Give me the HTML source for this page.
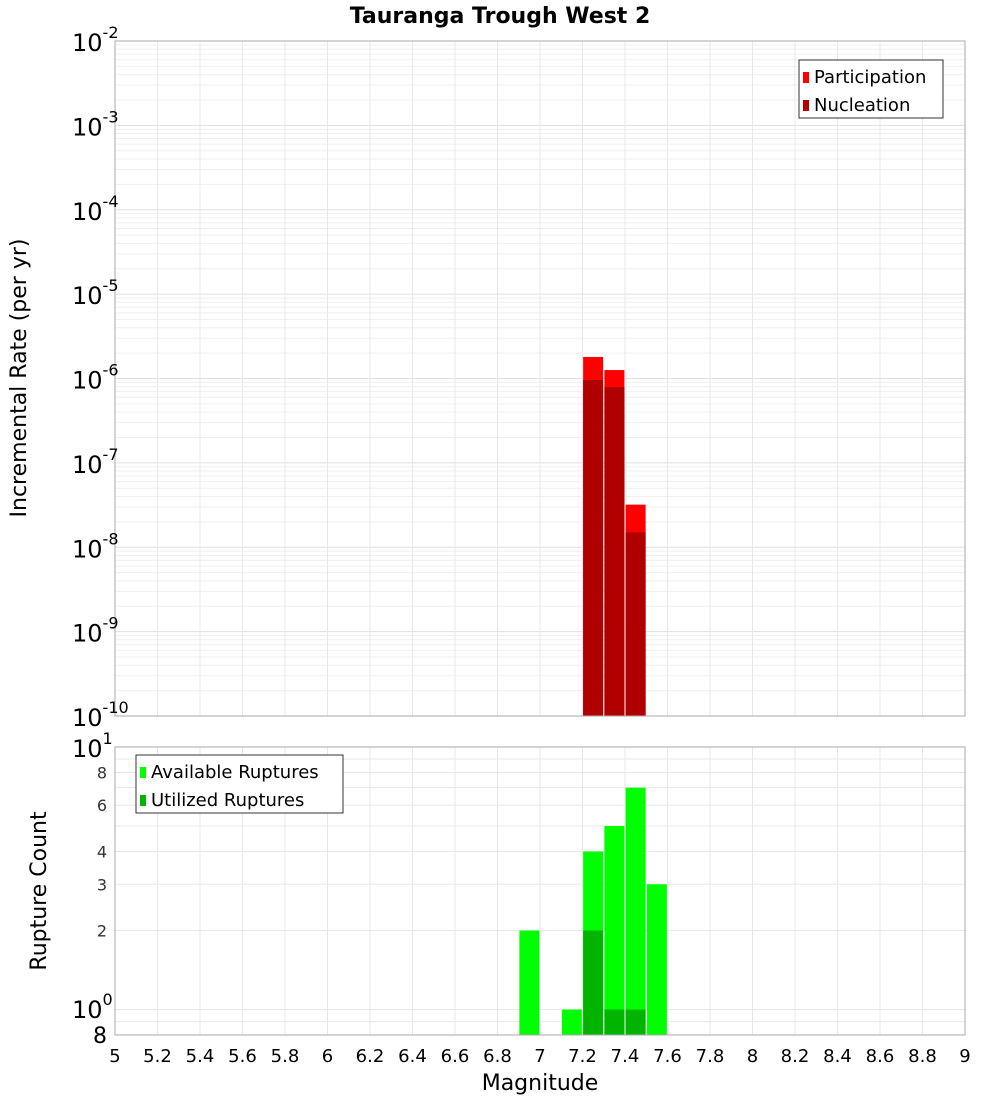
<!DOCTYPE html>
<html><head><meta charset="utf-8"><style>
body{margin:0;background:#fff;font-family:"DejaVu Sans","Liberation Sans",sans-serif}
</style></head><body>
<svg id="c" width="1000" height="1100" xmlns="http://www.w3.org/2000/svg" font-family="DejaVu Sans, Liberation Sans, sans-serif">
<text x="500" y="23" text-anchor="middle" font-size="22" font-weight="bold">Tauranga Trough West 2</text>
<g id="g"></g>
</svg>
<script>
const mags=[7.25,7.35,7.45];
const participation=[1.8e-6,1.26e-6,3.2e-8];
const nucleation=[9.6e-7,7.9e-7,1.5e-8];
const countMags=[6.95,7.15,7.25,7.35,7.45,7.55];
const available=[2,1,4,5,7,3];
const utilMags=[7.25,7.35,7.45];
const utilized=[2,1,1];
const xTicks=[5,5.2,5.4,5.6,5.8,6,6.2,6.4,6.6,6.8,7,7.2,7.4,7.6,7.8,8,8.2,8.4,8.6,8.8,9];
const topExps=[-10,-9,-8,-7,-6,-5,-4,-3,-2];
const botTicks=[2,3,4,6,8];

const NS="http://www.w3.org/2000/svg",g=document.getElementById('g');
function el(t,a,txt){const e=document.createElementNS(NS,t);for(const k in a)e.setAttribute(k,a[k]);if(txt!==undefined)e.textContent=txt;g.appendChild(e);return e;}
const L=115,R=965,T1=41,B1=716,T2=747,B2=1035;
const x=m=>L+(m-5)/4*(R-L);
const y1=v=>B1-(Math.log10(v)+10)/8*(B1-T1);
const lo=Math.log10(0.8),hi=1;
const y2=v=>B2-(Math.log10(v)-lo)/(hi-lo)*(B2-T2);

// top grid
for(let e=-10;e<-2;e++)for(let k=1;k<10;k++){const yy=y1(k*Math.pow(10,e));let l=el('line',{x1:L,x2:R,y1:yy,y2:yy,stroke:k==1?'#e0e0e0':'#efefef','stroke-width':1});}
xTicks.forEach(m=>{[[T1,B1],[T2,B2]].forEach(([a,b])=>{let l=el('line',{x1:x(m),x2:x(m),y1:a,y2:b,stroke:'#e8e8e8'});});});
// bottom grid
for(let v=0.8;v<=10.01;v+=(v<0.95?0.1:1)){const yy=y2(v);let l=el('line',{x1:L,x2:R,y1:yy,y2:yy,stroke:'#e8e8e8'});}

// top bars
const hw=0.047;
mags.forEach((m,i)=>{
 let r=el('rect',{x:x(m-hw),y:y1(participation[i]),width:x(m+hw)-x(m-hw),height:B1-y1(participation[i]),fill:'#ff0000'});
 
 let n=el('rect',{x:x(m-hw),y:y1(nucleation[i]),width:x(m+hw)-x(m-hw),height:B1-y1(nucleation[i]),fill:'#b00000'});
 
});
// bottom bars
countMags.forEach((m,i)=>{
 let r=el('rect',{x:x(m-hw),y:y2(available[i]),width:x(m+hw)-x(m-hw),height:B2-y2(available[i]),fill:'#00ff00'});
 
});
utilMags.forEach((m,i)=>{
 let r=el('rect',{x:x(m-hw),y:y2(utilized[i]),width:x(m+hw)-x(m-hw),height:B2-y2(utilized[i]),fill:'#00b400'});
 
});
// frames
[[T1,B1],[T2,B2]].forEach(([a,b])=>{let f=el('rect',{x:L,y:a,width:R-L,height:b-a,fill:'none',stroke:'#aaa'});});

// x ticks
xTicks.forEach(m=>{let t=el('text',{x:x(m),y:1062,'text-anchor':'middle','font-size':18},String(m));});
// top y labels
topExps.forEach(e=>{const yy=y1(Math.pow(10,e));let t=el('text',{x:72,y:yy+10,'font-size':24},'');
 const a=document.createElementNS(NS,'tspan');a.textContent='10';t.appendChild(a);
 const b=document.createElementNS(NS,'tspan');b.setAttribute('dy','-13');b.setAttribute('font-size','16');b.textContent=String(e);t.appendChild(b);});
// bottom y labels
botTicks.forEach(v=>{let t=el('text',{x:107,y:y2(v)+6,'text-anchor':'end','font-size':16,fill:'#333'},String(v));});
[[1,'0',1018],[10,'1',757]].forEach(([v,e,yy])=>{let t=el('text',{x:72,y:yy,'font-size':24},'');
 const a=document.createElementNS(NS,'tspan');a.textContent='10';t.appendChild(a);
 const b=document.createElementNS(NS,'tspan');b.setAttribute('dy','-13');b.setAttribute('font-size','16');b.textContent=e;t.appendChild(b);});
let e8=el('text',{x:107,y:1043,'text-anchor':'end','font-size':22},'8');

// axis titles
let xt=el('text',{x:540,y:1090,'text-anchor':'middle','font-size':22},'Magnitude');
let yt=el('text',{x:0,y:0,'text-anchor':'middle','font-size':22,transform:'translate(26,378) rotate(-90)'},'Incremental Rate (per yr)');
let yt2=el('text',{x:0,y:0,'text-anchor':'middle','font-size':22,transform:'translate(46,891) rotate(-90)'},'Rupture Count');

// legends
function legend(x0,y0,w,items,name){let b=el('rect',{x:x0,y:y0,width:w,height:58,fill:'#fff',stroke:'#333'});
 items.forEach(([lab,c],i)=>{let s=el('rect',{x:x0+4,y:y0+12+i*28,width:6,height:11,fill:c});
 let t=el('text',{x:x0+15,y:y0+23+i*28,'font-size':18},lab);});}
legend(799,60,144,[['Participation','#ff0000'],['Nucleation','#b00000']],'top-legend');
legend(136,755,207,[['Available Ruptures','#00ff00'],['Utilized Ruptures','#00b400']],'bottom-legend');
</script>
</body></html>
